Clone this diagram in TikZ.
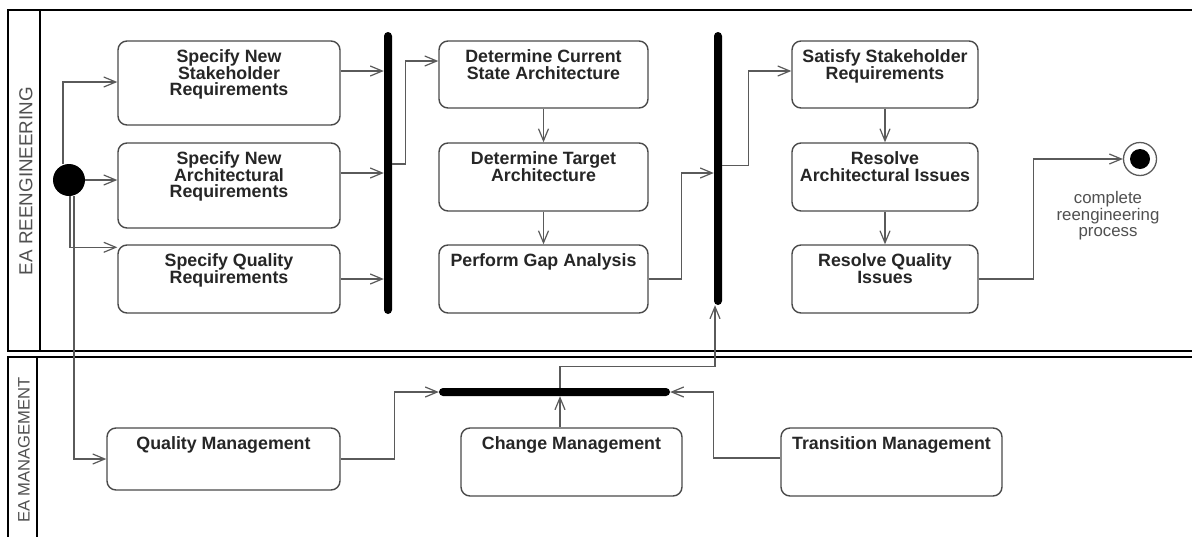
\documentclass[tikz,border=0pt]{standalone}
\usepackage{fontspec}
\setmainfont{Liberation Sans}
\usetikzlibrary{arrows.meta,calc}
\definecolor{boxc}{HTML}{4A4A4A}
\definecolor{linec}{HTML}{5A5A5A}
\definecolor{txtc}{HTML}{262626}
\definecolor{lanec}{HTML}{505050}
\begin{document}
\begin{tikzpicture}[x=1pt,y=-1pt,
  act/.style={draw=boxc, line width=1.4pt, rounded corners=9pt, inner sep=0pt, fill=white},
  acttext/.style={anchor=north, inner sep=0pt, align=center, font=\bfseries\fontsize{17.8}{16.7}\selectfont, text=txtc},
  flow/.style={draw=linec, line width=1.2pt, -{Straight Barb[length=12pt,width=10pt]}},
  bar/.style={fill=black, inner sep=0pt, rounded corners=4pt},
  lane/.style={line width=1.9pt, draw=black},
  lanelabel/.style={rotate=90, text=lanec, inner sep=0pt}
]
\useasboundingbox (0,0) rectangle (1192,536);
\fill[white] (0,0) rectangle (1192,536);

% swim lanes
\draw[lane] (1193,10) -- (8,10) -- (8,351) -- (1193,351);
\draw[lane] (40,10) -- (40,351);
\draw[lane] (1193,357) -- (8,357) -- (8,537);
\draw[lane] (37,357) -- (37,537);
\node[lanelabel, font=\fontsize{18.8}{20}\selectfont] (l1) at (26,181) {EA REENGINEERING};
\node[lanelabel, font=\fontsize{16.6}{18}\selectfont] (l2) at (24,450) {EA MANAGEMENT};

% initial / final
\node[circle, fill=black, minimum size=32pt, inner sep=0pt] (init) at (69,180) {};
\node[circle, draw=linec, line width=1.3pt, fill=white, minimum size=33pt, inner sep=0pt] (fin) at (1140,159) {};
\node[circle, fill=black, minimum size=20pt, inner sep=0pt] (finin) at (fin) {};
\node[anchor=north, inner sep=0pt, align=center, font=\fontsize{16.8}{16.2}\selectfont, text=lanec] (fint) at (1108,191.5) {complete\\reengineering\\process};

% bars
\node[bar, minimum width=8pt, minimum height=282pt] (bar1) at (388,173) {};
\node[bar, minimum width=8pt, minimum height=273pt] (bar2) at (718,168.5) {};
\node[bar, minimum width=231pt, minimum height=8pt] (bar3) at (554.5,392) {};

% activities
\node[act, minimum width=222pt, minimum height=84pt] (a1) at (229,83) {};
\node[acttext] (a1t) at ([yshift=-9pt]a1.north) {Specify New\\Stakeholder\\Requirements};
\node[act, minimum width=222pt, minimum height=85pt] (a2) at (229,185.5) {};
\node[acttext] (a2t) at ([yshift=-9pt]a2.north) {Specify New\\Architectural\\Requirements};
\node[act, minimum width=222pt, minimum height=68pt] (a3) at (229,279) {};
\node[acttext] (a3t) at ([yshift=-9pt]a3.north) {Specify Quality\\Requirements};

\node[act, minimum width=209pt, minimum height=67pt] (b1) at (543.5,74.5) {};
\node[acttext] (b1t) at ([yshift=-9pt]b1.north) {Determine Current\\State Architecture};
\node[act, minimum width=209pt, minimum height=68pt] (b2) at (543.5,177) {};
\node[acttext] (b2t) at ([yshift=-9pt]b2.north) {Determine Target\\Architecture};
\node[act, minimum width=209pt, minimum height=68pt] (b3) at (543.5,279) {};
\node[acttext] (b3t) at ([yshift=-9pt]b3.north) {Perform Gap Analysis};

\node[act, minimum width=186pt, minimum height=67pt] (c1) at (885,74.5) {};
\node[acttext] (c1t) at ([yshift=-9pt]c1.north) {Satisfy Stakeholder\\Requirements};
\node[act, minimum width=186pt, minimum height=68pt] (c2) at (885,177) {};
\node[acttext] (c2t) at ([yshift=-9pt]c2.north) {Resolve\\Architectural Issues};
\node[act, minimum width=186pt, minimum height=68pt] (c3) at (885,279) {};
\node[acttext] (c3t) at ([yshift=-9pt]c3.north) {Resolve Quality\\Issues};

\node[act, minimum width=233pt, minimum height=62pt] (d1) at (223.5,459) {};
\node[acttext] (d1t) at ([yshift=-9pt]d1.north) {Quality Management};
\node[act, minimum width=221pt, minimum height=68pt] (d2) at (571.5,462) {};
\node[acttext] (d2t) at ([yshift=-9pt]d2.north) {Change Management};
\node[act, minimum width=221pt, minimum height=68pt] (d3) at (891.5,462) {};
\node[acttext] (d3t) at ([yshift=-9pt]d3.north) {Transition Management};

% connectors
\draw[flow] ([xshift=-6pt]init.north) |- ([yshift=1pt]a1.west);
\draw[flow] (init.east) -- (init.east -| a2.west);
\draw[flow] ([xshift=1pt]init.south) |- ([yshift=-3pt]a3.north west);
\draw[flow] ([xshift=5pt]init.south) |- (d1.west);

\draw[flow] ([yshift=12pt]a1.east) -- ([yshift=12pt]a1.east -| bar1.west);
\draw[flow] ([yshift=12.5pt]a2.east) -- ([yshift=12.5pt]a2.east -| bar1.west);
\draw[flow] (a3.east) -- (a3.east -| bar1.west);

\draw[flow] ([yshift=9pt]bar1.east) -- ++(13,0) |- ([yshift=13.5pt]b1.west);
\draw[flow] (b1.south) -- (b2.north);
\draw[flow] (b2.south) -- (b3.north);
\draw[flow] (b3.east) -- ++(33,0) |- ([yshift=-4.5pt]bar2.west);

\draw[flow] ([yshift=3pt]bar2.east) -- ++(26,0) |- ([yshift=3.5pt]c1.west);
\draw[flow] (c1.south) -- (c2.north);
\draw[flow] (c2.south) -- (c3.north);
\draw[flow] (c3.east) -- ++(55,0) |- (fin.west);

\draw[flow] (d1.east) -- ++(54,0) |- (bar3.west);
\draw[flow] ([xshift=-11.5pt]d2.north) -- ([xshift=-11.5pt]d2.north |- bar3.south);
\draw[flow] ([xshift=5.5pt]bar3.north) -- ++(0,-21) -| ([xshift=-3pt]bar2.south);
\draw[flow] ([yshift=4pt]d3.west) -- ++(-67,0) |- (bar3.east);
\end{tikzpicture}
\end{document}
